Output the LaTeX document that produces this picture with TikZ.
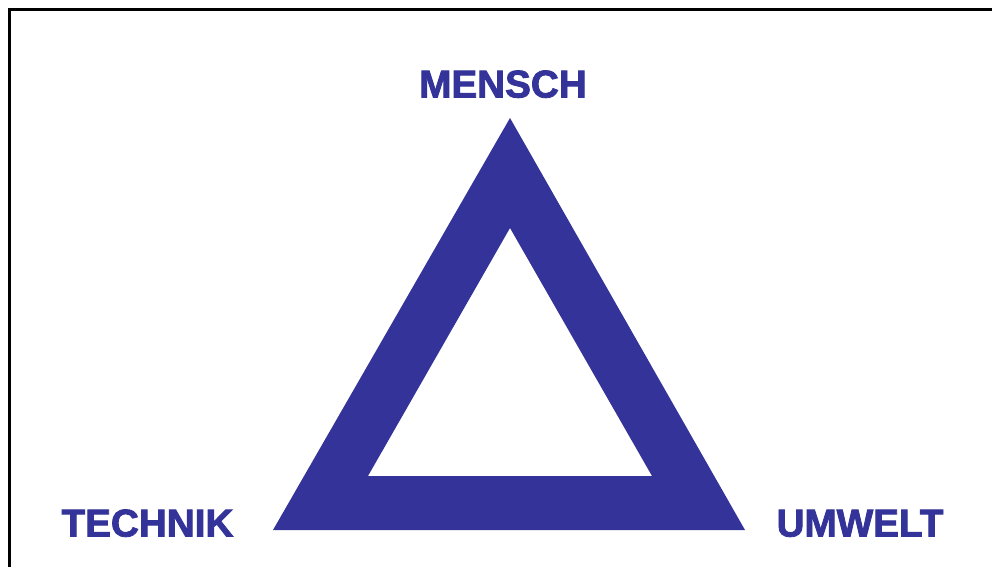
\documentclass[tikz,border=0pt]{standalone}
\usepackage{fontspec}
\setmainfont{Liberation Sans}
\newfontfamily\heavysans[BoldFeatures={FakeBold=2.2}]{Liberation Sans}
\usepackage{xcolor}
\usepackage{tikz}
\usetikzlibrary{positioning}
\definecolor{TriBlue}{HTML}{333399}
\tikzset{
  every picture/.style={line width=0.72pt},
  frameline/.style={draw=black, line width=2.25pt},
  tribody/.style={fill=TriBlue, even odd rule},
  cornerlabel/.style={
    text=TriBlue,
    font=\heavysans\fontsize{29}{30}\selectfont\bfseries,
    inner sep=0pt,
    anchor=base
  }
}
\begin{document}
\begin{tikzpicture}[x=0.75pt, y=-0.75pt]
  \useasboundingbox (0,0) rectangle (992,567);
  \clip (0,0) rectangle (992,567);
  % outer frame, cut at right and bottom
  \draw[frameline] (9.5,10) rectangle (1010,590);

  % triangle ring
  \path[tribody] (510,118) -- (745,530) -- (273,530) -- cycle
                 (510,228) -- (652,476) -- (368,476) -- cycle;

  \node[cornerlabel] (mensch) at (503,97.5) {MENSCH};
  \node[cornerlabel] (technik) at (147.5,536.5) {TECHNIK};
  \node[cornerlabel] (umwelt) at (860,536.5) {UMWELT};
\end{tikzpicture}
\end{document}
